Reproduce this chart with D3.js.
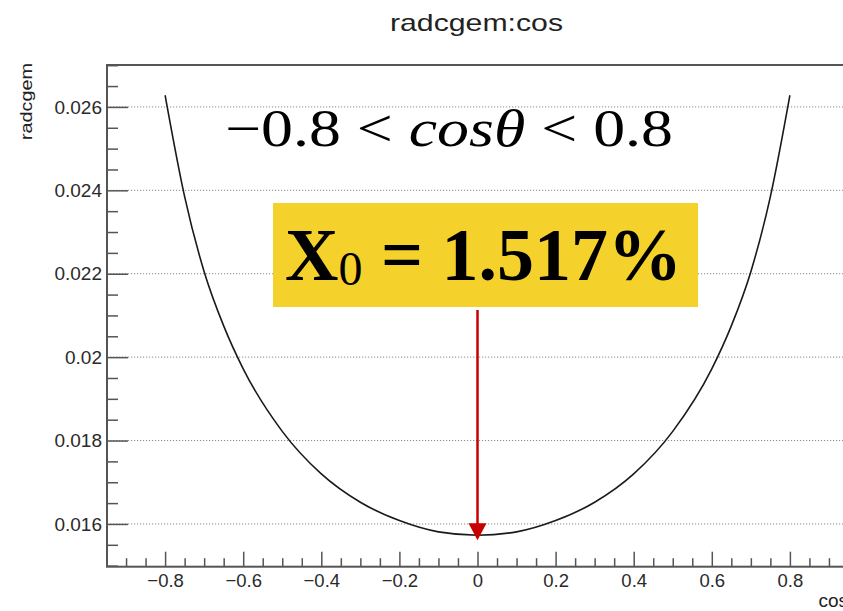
<!DOCTYPE html>
<html>
<head>
<meta charset="utf-8">
<script src="https://cdn.jsdelivr.net/npm/d3@7"></script>
<style>
  body { margin: 0; background: #fff; }
  svg { display: block; }
</style>
</head>
<body>
<svg></svg>
<script>
'use strict';

// values
var cosValues = [-0.8, -0.75, -0.7, -0.65, -0.6, -0.5, -0.4, -0.3, -0.2, -0.1, 0,
                 0.1, 0.2, 0.3, 0.4, 0.5, 0.6, 0.65, 0.7, 0.75, 0.8];
var radValues = [0.02628, 0.02385, 0.02205, 0.02075, 0.01972, 0.01822, 0.01720, 0.01652, 0.01608, 0.01581, 0.01573,
                 0.01581, 0.01608, 0.01652, 0.01720, 0.01822, 0.01972, 0.02075, 0.02205, 0.02385, 0.02628];

var xMajor = [-0.8, -0.6, -0.4, -0.2, 0, 0.2, 0.4, 0.6, 0.8];
var xLabels = ['\u22120.8', '\u22120.6', '\u22120.4', '\u22120.2', '0', '0.2', '0.4', '0.6', '0.8'];
var yMajor = [0.016, 0.018, 0.02, 0.022, 0.024, 0.026];
var yLabels = ['0.016', '0.018', '0.02', '0.022', '0.024', '0.026'];

var titleText = 'radcgem:cos';
var xTitle = 'cos';
var yTitle = 'radcgem';
var rangeText = ['\u22120.8 < ', 'cos\u03b8', ' < 0.8'];
var x0Value = '1.517%';

var width = 843;
var height = 611;

// frame edges
var padL = 107, padR = 848, padT = 65, padB = 566.7;

var svg = d3.select('svg')
  .attr('width', width)
  .attr('height', height);

var x = d3.scaleLinear().domain([-0.9488, 0.9488]).range([padL, padR]);
var y = d3.scaleLinear().domain([0.014975, 0.027005]).range([padB, padT]);

// horizontal dotted grid
svg.append('g').selectAll('line')
  .data(yMajor)
  .enter().append('line')
  .attr('x1', padL).attr('x2', padR)
  .attr('y1', function(d) { return y(d); })
  .attr('y2', function(d) { return y(d); })
  .attr('stroke', '#8a8a8a')
  .attr('stroke-width', 1)
  .attr('stroke-dasharray', '1.2,1.8');

// minor ticks
var xMinor = d3.range(-0.9, 0.901, 0.05).filter(function(v) { return Math.abs(v * 5 - Math.round(v * 5)) > 1e-6; });
var yMinor = d3.range(0.0150, 0.02701, 0.0005).filter(function(v) { return Math.abs(v * 500 - Math.round(v * 500)) > 1e-6; });

svg.append('g')
  .attr('transform', 'translate(0,' + padB + ')')
  .call(d3.axisBottom(x).tickValues(xMinor).tickSize(-8.5).tickFormat(''))
  .call(function(g) { g.select('.domain').remove(); });

svg.append('g')
  .attr('transform', 'translate(' + padL + ',0)')
  .call(d3.axisLeft(y).tickValues(yMinor).tickSize(-11).tickFormat(''))
  .call(function(g) { g.select('.domain').remove(); });

// major ticks + labels
var xAxis = svg.append('g')
  .attr('transform', 'translate(0,' + padB + ')')
  .call(d3.axisBottom(x).tickValues(xMajor).tickSize(-15).tickPadding(7)
    .tickFormat(function(d, i) { return xLabels[i]; }));

var yAxis = svg.append('g')
  .attr('transform', 'translate(' + padL + ',0)')
  .call(d3.axisLeft(y).tickValues(yMajor).tickSize(-21).tickPadding(5)
    .tickFormat(function(d, i) { return yLabels[i]; }));

[xAxis, yAxis].forEach(function(g) {
  g.select('.domain').remove();
  g.selectAll('text')
    .attr('fill', '#2a2a2a')
    .style('font-family', '"Liberation Sans", Arial, sans-serif');
});
xAxis.selectAll('text').style('font-size', '18.5px');
yAxis.selectAll('text').style('font-size', '19px');
svg.selectAll('.tick line').attr('stroke', '#555').attr('stroke-width', 1.5);

// frame
svg.append('rect')
  .attr('x', padL).attr('y', padT)
  .attr('width', padR - padL).attr('height', padB - padT)
  .attr('fill', 'none')
  .attr('stroke', '#555')
  .attr('stroke-width', 2);

// the curve
var line = d3.line()
  .x(function(d, i) { return x(cosValues[i]); })
  .y(function(d) { return y(d); })
  .curve(d3.curveMonotoneX);

svg.append('path')
  .datum(radValues)
  .attr('d', line)
  .attr('fill', 'none')
  .attr('stroke', '#1a1a1a')
  .attr('stroke-width', 1.6);

// titles
svg.append('text')
  .attr('x', 476.5).attr('y', 31)
  .attr('text-anchor', 'middle')
  .attr('textLength', 173)
  .attr('lengthAdjust', 'spacingAndGlyphs')
  .style('font-family', '"Liberation Sans", Arial, sans-serif')
  .style('font-size', '24px')
  .attr('fill', '#222')
  .text(titleText);

svg.append('text')
  .attr('transform', 'translate(32,63) rotate(-90)')
  .attr('text-anchor', 'end')
  .attr('textLength', 77)
  .attr('lengthAdjust', 'spacingAndGlyphs')
  .style('font-family', '"Liberation Sans", Arial, sans-serif')
  .style('font-size', '17px')
  .attr('fill', '#222')
  .text(yTitle);

svg.append('text')
  .attr('x', padR).attr('y', 607)
  .attr('text-anchor', 'end')
  .style('font-family', '"Liberation Sans", Arial, sans-serif')
  .style('font-size', '19px')
  .attr('fill', '#222')
  .text(xTitle);

// range annotation
var rt = svg.append('text')
  .attr('x', 225).attr('y', 146)
  .attr('textLength', 448)
  .attr('lengthAdjust', 'spacingAndGlyphs')
  .style('font-family', '"Liberation Serif", "Times New Roman", serif')
  .style('font-size', '52px')
  .attr('fill', '#000');
rt.append('tspan').text(rangeText[0]);
rt.append('tspan').style('font-style', 'italic').text(rangeText[1]);
rt.append('tspan').text(rangeText[2]);

// yellow X0 box
svg.append('rect')
  .attr('x', 273).attr('y', 203)
  .attr('width', 425).attr('height', 104)
  .attr('fill', '#f5d22b');

var xt = svg.append('text')
  .attr('x', 285).attr('y', 280)
  .style('font-family', '"Liberation Serif", "Times New Roman", serif')
  .style('font-size', '74px')
  .style('font-weight', 'bold')
  .attr('fill', '#000');
xt.append('tspan').text('X');
xt.append('tspan').attr('dy', 5).style('font-size', '48px').style('font-weight', 'normal').text('0');
xt.append('tspan').attr('dy', -5).text(' = ' + x0Value);

// red arrow pointing at the minimum
var ax = x(0);
var tipY = y(d3.min(radValues)) + 5;
svg.append('line')
  .attr('x1', ax).attr('x2', ax)
  .attr('y1', 310).attr('y2', tipY - 14)
  .attr('stroke', '#c80000')
  .attr('stroke-width', 2.5);
svg.append('path')
  .attr('d', 'M' + (ax - 9) + ',' + (tipY - 17) + 'L' + (ax + 9) + ',' + (tipY - 17) + 'L' + ax + ',' + tipY + 'Z')
  .attr('fill', '#c80000');
</script>
</body>
</html>
